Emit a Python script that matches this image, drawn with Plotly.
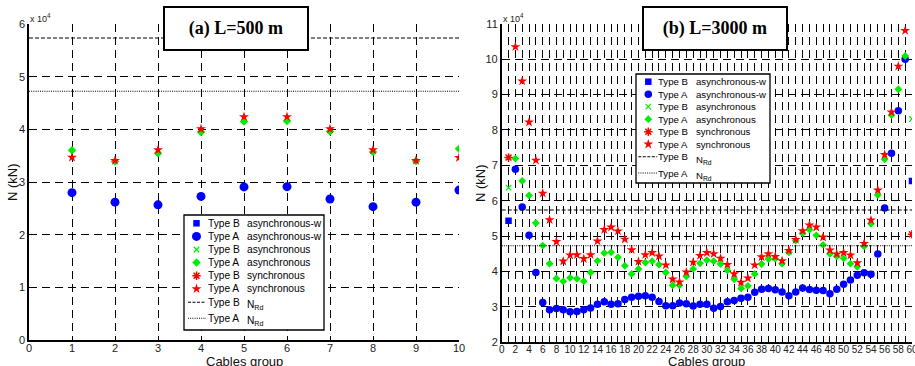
import plotly.graph_objects as go

# ---------------- data (kN) ----------------
groups_500 = list(range(1, 11))
typeA_async_w_500 = [28000, 26200, 25700, 27300, 29100, 29150, 26800, 25350, 26200, 28500]
typeA_async_500 = [36050, 33900, 35500, 39500, 41500, 41600, 39600, 35700, 34000, 36350]
typeA_sync_500 = [34700, 34100, 36100, 40100, 42400, 42400, 40100, 36100, 34100, 34650]
groups_500_B = []
typeB_async_w_500 = []
typeB_async_500 = []
typeB_sync_500 = []

groups_3000_A = list(range(2, 60))
groups_3000_B = [1, 60]
typeB_async_w_3000 = [54300, 65600]
typeB_async_3000 = [63700, 83100]
typeB_sync_3000 = [72200, 50500]
typeA_async_w_3000 = [
    68900, 58200, 50200, 39700, 31200, 29200, 29500, 29200, 28600, 28700,
    29200, 29700, 30700, 31400, 30700, 30900, 32100, 32700, 33000, 33100,
    32700, 31500, 30300, 30300, 31100, 30900, 30200, 30700, 30700, 29600,
    30100, 31400, 31800, 32400, 32700, 34100, 35000, 35200, 34800, 34200,
    33100, 34200, 35300, 34900, 34700, 34600, 33700, 35000, 36400, 37600,
    38900, 39600, 39200, 44900, 57900, 73400, 85400, 100000]
typeA_async_3000 = [
    71900, 65600, 61500, 53700, 47300, 42200, 38000, 37200, 38200, 37900,
    37200, 39700, 43000, 45200, 45400, 44000, 41600, 39300, 40700, 42500,
    42900, 41900, 39700, 36100, 36100, 38600, 40700, 42300, 43200, 42900,
    42100, 40300, 37800, 35200, 35900, 39300, 42100, 43500, 43600, 42200,
    45400, 48700, 50800, 51800, 50200, 47500, 45000, 44300, 43700, 42200,
    41300, 47100, 53500, 61600, 71700, 84200, 91500, 100900]
typeA_sync_3000 = [
    103500, 93800, 82200, 71400, 62100, 54600, 48400, 42900, 44600, 44700,
    43600, 44700, 48600, 51800, 52500, 51400, 49100, 46100, 42800, 44700,
    45300, 44300, 41800, 37800, 37000, 39800, 42600, 44500, 45300, 45000,
    43700, 41900, 39300, 36900, 38100, 41800, 44100, 45000, 44200, 43000,
    45900, 49000, 51500, 53100, 52500, 49700, 46000, 44900, 45300, 44600,
    42400, 47900, 54500, 63000, 73000, 85000, 98000, 108100]
NRd_typeB = 57350
NRd_typeA = 47250

x_ticks_500 = list(range(0, 11))
x_ticks_3000 = list(range(0, 61, 2))
y_ticks_500 = [0, 10000, 20000, 30000, 40000, 50000, 60000]
y_labels_500 = ["0", "1", "2", "3", "4", "5", "6"]
y_ticks_3000 = [20000, 30000, 40000, 50000, 60000, 70000, 80000, 90000, 100000, 110000]
y_labels_3000 = ["2", "3", "4", "5", "6", "7", "8", "9", "10", "11"]

x_title = "Cables group"
y_title = "N (kN)"
legend_types = ["Type B", "Type A", "Type B", "Type A", "Type B", "Type A", "Type B", "Type A"]
legend_descs = ["asynchronous-w", "asynchronous-w", "asynchronous", "asynchronous",
                "synchronous", "synchronous", "N<sub>Rd</sub>", "N<sub>Rd</sub>"]

# ---------------- styles ----------------
W, H = 915, 366
BLUE, GREEN, RED = "#0000ff", "#00ee00", "#ff0000"
FONT = "Liberation Sans, Arial, Helvetica, sans-serif"
GRID_DASH = "8px,5px"


def px_x(p):
    return p / W


def px_y(p):
    return 1 - p / H


styles = [
    dict(symbol="square", color=BLUE, size=6.5),
    dict(symbol="circle", color=BLUE, size=9),
    dict(symbol="x-thin-open", color=GREEN, size=5.5, line=dict(color=GREEN, width=1.2)),
    dict(symbol="diamond", color=GREEN, size=6.5),
    dict(symbol="asterisk-open", color=RED, size=7, line=dict(color=RED, width=1.5)),
    dict(symbol="star", color=RED, size=7.5),
]
styles_small = [
    dict(symbol="square", color=BLUE, size=6.5),
    dict(symbol="circle", color=BLUE, size=7.5),
    dict(symbol="x-thin-open", color=GREEN, size=5.5, line=dict(color=GREEN, width=1.2)),
    dict(symbol="diamond", color=GREEN, size=6),
    dict(symbol="asterisk-open", color=RED, size=7, line=dict(color=RED, width=1.5)),
    dict(symbol="star", color=RED, size=7.5),
]
names = ["Type B asynchronous-w", "Type A asynchronous-w", "Type B asynchronous",
         "Type A asynchronous", "Type B synchronous", "Type A synchronous"]

fig = go.Figure()

series_500 = [(groups_500_B, typeB_async_w_500), (groups_500, typeA_async_w_500),
              (groups_500_B, typeB_async_500), (groups_500, typeA_async_500),
              (groups_500_B, typeB_sync_500), (groups_500, typeA_sync_500)]
series_3000 = [(groups_3000_B, typeB_async_w_3000), (groups_3000_A, typeA_async_w_3000),
               (groups_3000_B, typeB_async_3000), (groups_3000_A, typeA_async_3000),
               (groups_3000_B, typeB_sync_3000), (groups_3000_A, typeA_sync_3000)]

for (xs, ys), st, nm in zip(series_500, styles, names):
    fig.add_trace(go.Scatter(x=xs, y=ys, mode="markers", name=nm, marker=st,
                             xaxis="x", yaxis="y", showlegend=False, cliponaxis=True))
for xr, val, dash, nm in [([0, 10], NRd_typeB, "4px,2px", "Type B NRd"),
                          ([0, 10], NRd_typeA, "1px,1.2px", "Type A NRd")]:
    fig.add_trace(go.Scatter(x=xr, y=[val, val], mode="lines", name=nm,
                             line=dict(color="black", width=1.1, dash=dash),
                             xaxis="x", yaxis="y", showlegend=False))

for (xs, ys), st, nm in zip(series_3000, styles_small, names):
    fig.add_trace(go.Scatter(x=xs, y=ys, mode="markers", name=nm, marker=st,
                             xaxis="x2", yaxis="y2", showlegend=False, cliponaxis=True))
for xr, val, dash, nm in [([0, 60], NRd_typeB, "4px,2px", "Type B NRd"),
                          ([0, 60], NRd_typeA, "1px,1.2px", "Type A NRd")]:
    fig.add_trace(go.Scatter(x=xr, y=[val, val], mode="lines", name=nm,
                             line=dict(color="black", width=1.1, dash=dash),
                             xaxis="x2", yaxis="y2", showlegend=False))

# ---------------- manual legends (pixel overlay axes x3/y3) ----------------
shapes = []
annotations = []


def add_legend(box, rows, sym_x, type_x, desc_x, line_x0, line_x1, fsize, sty):
    shapes.append(dict(type="rect", xref="x3", yref="y3", x0=box[0], x1=box[2],
                       y0=box[1], y1=box[3], line=dict(color="black", width=1.3),
                       fillcolor="white", layer="below"))
    for i in range(8):
        y = rows[i]
        if i < 6:
            st = dict(sty[i])
            fig.add_trace(go.Scatter(x=[sym_x], y=[y], mode="markers", marker=st,
                                     xaxis="x3", yaxis="y3", showlegend=False,
                                     hoverinfo="skip", cliponaxis=False))
        else:
            shapes.append(dict(type="line", xref="x3", yref="y3", x0=line_x0, x1=line_x1,
                               y0=y, y1=y, layer="above",
                               line=dict(color="black", width=1.1,
                                         dash="3px,1.5px" if i == 6 else "1px,1.2px")))
        annotations.append(dict(xref="x3", yref="y3", x=type_x, y=y, text=legend_types[i],
                                showarrow=False, xanchor="left", yanchor="middle",
                                font=dict(family=FONT, size=fsize, color="black"),
                                borderpad=0))
        annotations.append(dict(xref="x3", yref="y3", x=desc_x, y=y + (3 if i >= 6 else 0),
                                text=legend_descs[i], showarrow=False, xanchor="left",
                                yanchor="middle",
                                font=dict(family=FONT, size=fsize, color="black"),
                                borderpad=0))


add_legend((184, 215, 324, 330),
           [223.3, 236.4, 249.5, 262.6, 275.7, 288.8, 302.3, 318.3],
           196.5, 206.5, 245.5, 188, 206, 10.2, styles)
add_legend((636, 74, 770, 183),
           [81.7, 94.2, 106.7, 119.2, 131.7, 144.2, 156.7, 173.0],
           648.3, 657.3, 694.5, 638.3, 657.3, 9.6, styles_small)

# titles in boxes
for txt, cx in [("<b>(a) L=500 m</b>", 236), ("<b>(b) L=3000 m</b>", 715)]:
    annotations.append(dict(xref="x3", yref="y3", x=cx, y=28.5, text=txt, showarrow=False,
                            xanchor="center", yanchor="middle", width=138, height=37,
                            borderpad=2, borderwidth=2, bordercolor="black", bgcolor="white",
                            font=dict(family="Liberation Serif, Times New Roman, serif",
                                      size=18, color="black")))
# exponent labels
for x0 in [29, 501.7]:
    annotations.append(dict(xref="x3", yref="y3", x=x0 - 1, y=18, text="x 10<sup>4</sup>",
                            showarrow=False, xanchor="left", yanchor="middle",
                            font=dict(family=FONT, size=9, color="#222")))
# axis titles
for cx in [244, 706.5]:
    annotations.append(dict(xref="x3", yref="y3", x=cx, y=361.5, text=x_title,
                            showarrow=False, xanchor="center", yanchor="middle",
                            font=dict(family=FONT, size=13, color="#111")))
for cx, cy in [(12, 182), (480, 183)]:
    annotations.append(dict(xref="x3", yref="y3", x=cx, y=cy, text=y_title, textangle=-90,
                            showarrow=False, xanchor="center", yanchor="middle",
                            font=dict(family=FONT, size=13, color="#111")))

axis_common = dict(showline=True, linecolor="black", linewidth=1.5, ticks="inside",
                   ticklen=4, tickcolor="black", showgrid=True, gridcolor="black",
                   gridwidth=1, griddash=GRID_DASH, zeroline=False, tickangle=0,
                   automargin=False, ticklabeloverflow="allow",
                   tickfont=dict(family=FONT, size=11, color="#222"))

fig.update_layout(
    width=W, height=H, margin=dict(l=0, r=0, t=0, b=0, autoexpand=False),
    paper_bgcolor="white", plot_bgcolor="rgba(0,0,0,0)", showlegend=False,
    font=dict(family=FONT, color="black"),
    xaxis=dict(domain=[px_x(29), px_x(459)], range=[0, 10], tickvals=x_ticks_500,
               anchor="y", ticklabelstandoff=-3, **axis_common),
    yaxis=dict(domain=[px_y(340.3), px_y(24)], range=[0, 60000], tickvals=y_ticks_500,
               ticktext=y_labels_500, anchor="x", **axis_common),
    xaxis2=dict(domain=[px_x(501.7), px_x(912)], range=[0, 60], tickvals=x_ticks_3000,
                anchor="y2", ticklabelstandoff=-3,
                minor=dict(dtick=1, tick0=0, showgrid=True, gridcolor="black", gridwidth=1,
                           griddash=GRID_DASH, ticks="inside", ticklen=2, tickcolor="black"),
                **{**axis_common, "tickfont": dict(family=FONT, size=10, color="#222")}),
    yaxis2=dict(domain=[px_y(342.2), px_y(23.8)], range=[20000, 110000],
                tickvals=y_ticks_3000, ticktext=y_labels_3000, anchor="x2", **axis_common),
    xaxis3=dict(domain=[0, 1], range=[0, W], visible=False, anchor="y3", fixedrange=True,
                automargin=False),
    yaxis3=dict(domain=[0, 1], range=[H, 0], visible=False, anchor="x3", fixedrange=True,
                automargin=False),
    shapes=shapes, annotations=annotations,
)

fig.write_html("out.html", config={"displayModeBar": False},
               post_script="document.body.style.margin='0px';"
                           "document.body.style.overflow='hidden';")
